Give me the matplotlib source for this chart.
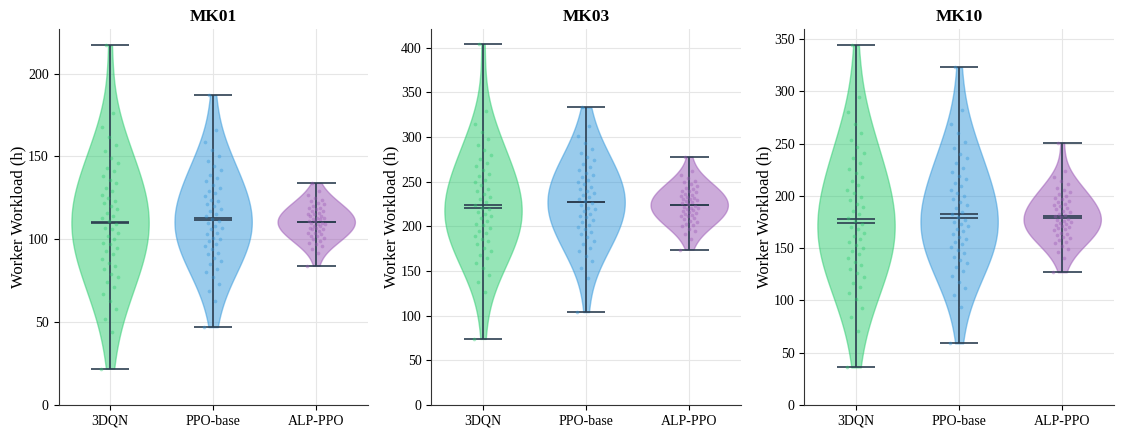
import numpy as np
import matplotlib
matplotlib.use("Agg")
import matplotlib.pyplot as plt

plt.rcParams['font.family'] = ['Liberation Serif', 'DejaVu Serif']

# Worker workload samples (h)
methods = ['3DQN', 'PPO-base', 'ALP-PPO']
instances = ['MK01', 'MK03', 'MK10']

mk01_3dqn = [22, 44, 52, 58, 63, 67, 71, 74, 77, 79, 82, 84, 86, 88, 91, 93, 95, 97, 98, 100,
             102, 104, 106, 107, 109,
             111, 113, 114, 116, 118, 120, 122, 123, 125, 127, 129, 131, 134, 136, 138, 141,
             143, 146, 149, 153, 157, 162, 168, 176, 217]
mk01_ppo = [47, 63, 69, 73, 77, 80, 82, 85, 87, 89, 91, 92, 94, 96, 97, 99, 100, 101, 103, 104,
            106, 107, 108, 110, 111,
            112, 114, 115, 117, 118, 120, 121, 123, 124, 126, 128, 129, 131, 133, 135, 137,
            139, 142, 144, 147, 150, 154, 159, 166, 187]
mk01_alp = [84, 92, 94, 96, 97, 98, 99, 100, 101, 102, 102, 103, 104, 104, 105, 106, 106, 107,
            107, 108, 108, 109, 109, 110, 110,
            111, 111, 112, 112, 113, 113, 114, 114, 115, 115, 116, 117, 117, 118, 119, 119,
            120, 121, 122, 123, 124, 125, 127, 129, 134]

mk03_3dqn = [74, 126, 138, 146, 153, 159, 164, 168, 172, 176, 180, 183, 186, 189, 192, 195, 198,
             201, 203, 206, 209, 211, 214, 216, 219,
             221, 224, 227, 230, 233, 236, 239, 242, 246, 249, 252, 256, 259, 263, 267, 271,
             275, 280, 285, 291, 298, 306, 315, 329, 404]
mk03_ppo = [104, 142, 153, 161, 167, 172, 176, 180, 184, 188, 191, 194, 197, 199, 202, 205, 207,
            210, 212, 214, 217, 219, 221, 224, 226,
            228, 230, 233, 235, 237, 240, 242, 244, 247, 249, 252, 255, 257, 260, 263, 266,
            270, 274, 278, 282, 287, 293, 301, 312, 333]
mk03_alp = [174, 186, 191, 195, 197, 200, 201, 203, 205, 206, 208, 209, 211, 212, 213, 214, 215,
            216, 217, 218, 219, 220, 221, 222, 223,
            225, 226, 227, 228, 229, 230, 231, 232, 233, 234, 235, 236, 238, 239, 240, 242,
            243, 245, 247, 249, 251, 254, 257, 262, 278]

mk10_3dqn = [36, 71, 84, 93, 101, 107, 113, 117, 122, 126, 130, 134, 137, 141, 144, 147, 150,
             153, 156, 159, 162, 165, 168, 170, 173,
             176, 179, 183, 186, 189, 192, 196, 199, 203, 206, 210, 214, 218, 222, 226, 231,
             236, 241, 247, 253, 260, 269, 280, 295, 344]
mk10_ppo = [59, 94, 105, 112, 118, 123, 128, 132, 136, 139, 142, 145, 148, 151, 154, 156, 159,
            161, 164, 166, 168, 171, 173, 175, 177,
            180, 183, 185, 188, 191, 194, 197, 200, 203, 206, 209, 212, 216, 219, 223, 227,
            231, 236, 240, 246, 252, 260, 269, 282, 323]
mk10_alp = [127, 141, 146, 149, 152, 155, 156, 158, 160, 161, 163, 164, 165, 167, 168, 169, 170,
            171, 172, 173, 174, 175, 176, 177, 178,
            180, 181, 182, 183, 185, 186, 187, 188, 190, 191, 192, 194, 195, 197, 198, 200,
            202, 204, 206, 208, 211, 214, 218, 224, 251]

data = {
    'MK01': [mk01_3dqn, mk01_ppo, mk01_alp],
    'MK03': [mk03_3dqn, mk03_ppo, mk03_alp],
    'MK10': [mk10_3dqn, mk10_ppo, mk10_alp],
}

colors = ['#2ecc71', '#3498db', '#9b59b6']
line_color = '#2c3e50'

fig, axes = plt.subplots(nrows=1, ncols=3, figsize=(11.25, 4.36), dpi=100)

for ax, name in zip(axes, instances):
    samples = data[name]
    positions = [1, 2, 3]
    parts = ax.violinplot(samples, positions=positions, widths=0.75,
                          showmeans=True, showmedians=True, showextrema=True,
                          bw_method=0.6)
    for body, c in zip(parts['bodies'], colors):
        body.set_facecolor(c)
        body.set_edgecolor(c)
        body.set_alpha(0.5)
        body.set_linewidth(1.0)
    for key in ['cbars', 'cmins', 'cmaxes', 'cmeans', 'cmedians']:
        parts[key].set_color(line_color)
        parts[key].set_linewidth(1.2)

    # jittered points on top
    for pos, vals, c in zip(positions, samples, colors):
        vals = np.asarray(vals)
        n = len(vals)
        offsets = ((np.arange(n) * 0.618034) % 1 - 0.5) * 0.17
        ax.scatter(pos + offsets, vals, s=7, color=c, alpha=0.4, linewidths=0, zorder=3)

    ax.set_xlim(0.5, 3.5)
    ax.set_ylim(bottom=0)
    ax.set_xticks(positions)
    ax.set_xticklabels(methods, fontsize=10)
    ax.tick_params(axis='y', labelsize=10)
    ax.set_ylabel('Worker Workload (h)', fontsize=12, labelpad=1)
    ax.set_title(name, fontsize=12.5, fontweight='bold')
    ax.grid(True, color='#e6e6e6', linewidth=0.8)
    ax.set_axisbelow(True)
    ax.spines['top'].set_visible(False)
    ax.spines['right'].set_visible(False)
    ax.spines['left'].set_color('#333333')
    ax.spines['bottom'].set_color('#333333')

plt.tight_layout()
plt.subplots_adjust(left=0.052, right=0.99, top=0.933, bottom=0.071, wspace=0.206)
plt.savefig('out.png', dpi=100)
